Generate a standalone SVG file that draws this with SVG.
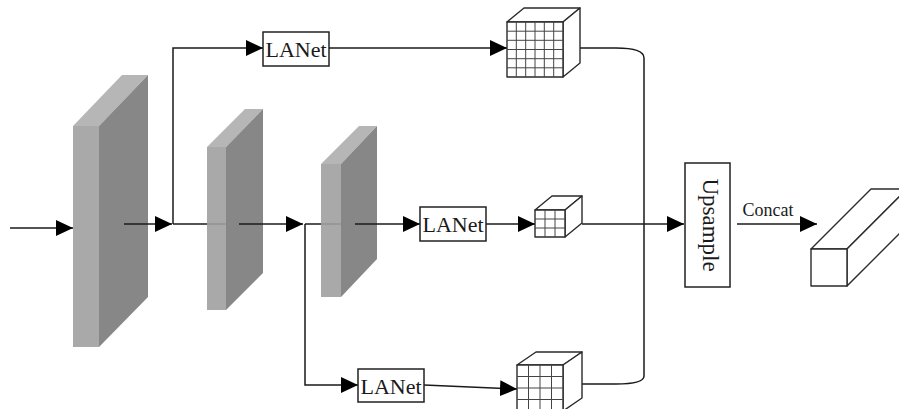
<svg xmlns="http://www.w3.org/2000/svg" width="899" height="409" viewBox="0 0 899 409">
  <style>
    .front { fill: #a9a9a9; }
    .top { fill: #b6b6b6; }
    .side { fill: #878787; }
    .box { fill: #ffffff; stroke: #222222; stroke-width: 1.5; }
    .cube { fill: #ffffff; stroke: #2a2a2a; stroke-width: 1.4; stroke-linejoin: round; }
    .grid { stroke: #444444; stroke-width: 1; fill: none; }
    .wire { fill: none; stroke: #1a1a1a; stroke-width: 1.5; }
    .faint { fill: none; stroke: #555555; stroke-width: 1.2; opacity: 0.35; }
    .label { font-family: "Liberation Serif", "Times New Roman", serif; fill: #1a1a1a; }
  </style>
  <defs>
    <marker id="arrow" markerUnits="userSpaceOnUse" viewBox="0 0 17 16" refX="17" refY="8" markerWidth="17" markerHeight="16" orient="auto">
      <path d="M0,0 L17,8 L0,16 z" fill="#000000"/>
    </marker>
  </defs>

  <!-- feature slabs -->
  <g id="slab1">
    <rect class="front" x="73" y="126" width="26" height="221"/>
    <polygon class="top" points="73,126 122,75 148,75 99,126"/>
    <polygon class="side" points="99,126 148,75 148,297 99,347"/>
  </g>
  <g id="slab2">
    <rect class="front" x="207" y="147" width="19" height="163"/>
    <polygon class="top" points="207,147 245,109 263,109 226,147"/>
    <polygon class="side" points="226,147 263,109 263,273 226,310"/>
  </g>
  <g id="slab3">
    <rect class="front" x="321" y="164" width="20" height="133"/>
    <polygon class="top" points="321,164 359,126 377,126 341,164"/>
    <polygon class="side" points="341,164 377,126 377,259 341,297"/>
  </g>

  <!-- connectors -->
  <g id="connectors">
    <path class="wire" d="M10,228 H73" marker-end="url(#arrow)"/>
    <path class="wire" d="M124,224 H172" marker-end="url(#arrow)"/>
    <path class="wire" d="M173,224 V48 H263" marker-end="url(#arrow)"/>
    <path class="wire" d="M173,224 H207"/>
    <path class="faint" d="M207,224 H226"/>
    <path class="wire" d="M239,224 H303" marker-end="url(#arrow)"/>
    <path class="wire" d="M305,224 V385 H358" marker-end="url(#arrow)"/>
    <path class="wire" d="M305,224 H321"/>
    <path class="faint" d="M321,224 H341"/>
    <path class="wire" d="M355,224 H420" marker-end="url(#arrow)"/>
    <path class="wire" d="M486,224 H535" marker-end="url(#arrow)"/>
    <path class="wire" d="M329,48 H507" marker-end="url(#arrow)"/>
    <path class="wire" d="M424,385 L517,389" marker-end="url(#arrow)"/>
    <path class="wire" d="M580,48 H616 Q644,48 644,58 V376 Q644,384 616,384 H582"/>
    <path class="wire" d="M582,224 H684" marker-end="url(#arrow)"/>
    <path class="wire" d="M737,224 H817" marker-end="url(#arrow)"/>
  </g>

  <!-- LANet blocks -->
  <g id="lanet-top">
    <rect class="box" x="263" y="32" width="66" height="34"/>
    <text class="label" x="296" y="57" font-size="22" text-anchor="middle">LANet</text>
  </g>
  <g id="lanet-mid">
    <rect class="box" x="420" y="207" width="66" height="34"/>
    <text class="label" x="453" y="232" font-size="22" text-anchor="middle">LANet</text>
  </g>
  <g id="lanet-bottom">
    <rect class="box" x="358" y="369" width="66" height="33"/>
    <text class="label" x="391" y="394" font-size="22" text-anchor="middle">LANet</text>
  </g>

  <!-- grid cubes -->
  <g id="cube-top">
    <polygon class="cube" points="507,22 524,8 580,8 563,22"/>
    <polygon class="cube" points="563,22 580,8 580,63 563,77"/>
    <rect class="cube" x="507" y="22" width="56" height="55"/>
    <path class="grid" d="M516.3,22 V77 M525.7,22 V77 M535,22 V77 M544.3,22 V77 M553.7,22 V77
                          M507,31.2 H563 M507,40.3 H563 M507,49.5 H563 M507,58.7 H563 M507,67.8 H563"/>
  </g>
  <g id="cube-mid">
    <polygon class="cube" points="535,210 552,196 582,196 565,210"/>
    <polygon class="cube" points="565,210 582,196 582,223 565,237"/>
    <rect class="cube" x="535" y="210" width="30" height="27"/>
    <path class="grid" d="M545,210 V237 M555,210 V237 M535,219 H565 M535,228 H565"/>
  </g>
  <g id="cube-bottom">
    <polygon class="cube" points="517,365 536,352 582,352 563,365"/>
    <polygon class="cube" points="563,365 582,352 582,398 563,411"/>
    <rect class="cube" x="517" y="365" width="46" height="46"/>
    <path class="grid" d="M528.5,365 V411 M540,365 V411 M551.5,365 V411
                          M517,376.5 H563 M517,388 H563 M517,399.5 H563"/>
  </g>

  <!-- upsample -->
  <g id="upsample">
    <rect class="box" x="685" y="163" width="45" height="124"/>
    <text class="label" transform="translate(703,225) rotate(90)" font-size="23" text-anchor="middle">Upsample</text>
  </g>

  <!-- concat label -->
  <g id="concat">
    <text class="label" x="768" y="216" font-size="18" text-anchor="middle">Concat</text>
  </g>

  <!-- output prism -->
  <g id="output">
    <polygon class="cube" points="811,249 871,189 907,189 847,249"/>
    <polygon class="cube" points="847,249 907,189 907,226 847,286"/>
    <rect class="cube" x="811" y="249" width="36" height="37"/>
  </g>
</svg>
